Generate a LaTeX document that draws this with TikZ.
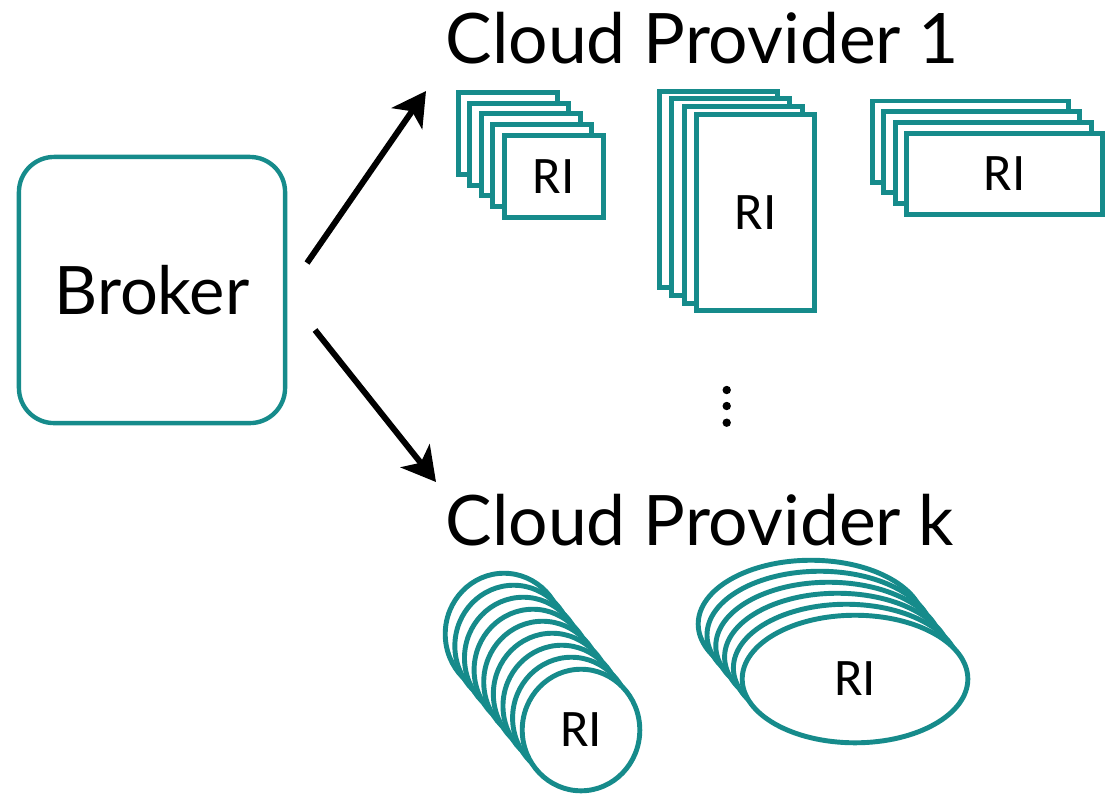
\documentclass[tikz,border=0pt]{standalone}
\usepackage{fontspec}
\setmainfont{Lato}
\newfontfamily\rifont{Carlito}
\usepackage{tikz}
\usetikzlibrary{arrows.meta, shapes.geometric}
\definecolor{RITeal}{RGB}{22,139,139}

\begin{document}
\begin{tikzpicture}[x=0.01cm, y=-0.01cm,
    ri/.style={draw=RITeal, line width=1.4pt, fill=white, inner sep=0pt, font=\rifont\fontsize{15}{16}\selectfont},
    flow/.style={-{Stealth[length=9.5pt, width=10.5pt, inset=2.5pt]}, line width=1.7pt},
    title/.style={anchor=base west, inner sep=0pt, font=\fontsize{19.8}{22}\selectfont}]
    \useasboundingbox (0,0) rectangle (1107,793);

    % broker
    \node[draw=RITeal, line width=1.25pt, rounded corners=10pt, minimum width=2.66cm, minimum height=2.66cm,
          font=\fontsize{19}{22}\selectfont] (broker) at (152,290) {Broker};

    % provider titles
    \node[title] (cp1) at (445,63) {Cloud Provider 1};
    \node[title] (cpk) at (445,545) {Cloud Provider k};

    % arrows
    \coordinate (up-from) at (307,263);
    \coordinate (up-to) at (426,91);
    \coordinate (down-from) at (315,330);
    \coordinate (down-to) at (436,482);
    \draw[flow] (up-from) -- (up-to);
    \draw[flow] (down-from) -- (down-to);

    % provider 1: small instances
    \foreach \i in {0,...,3}
        \node[ri, minimum width=0.99cm, minimum height=0.82cm] at ({507.8+\i*11.5},{133.3+\i*10.75}) {};
    \node[ri, minimum width=0.99cm, minimum height=0.82cm] (ri-small) at (553.8,176.3) {RI};

    % provider 1: tall instances
    \foreach \i in {0,...,2}
        \node[ri, minimum width=1.18cm, minimum height=1.965cm] at ({718.5+\i*12.33},{189.5+\i*7.67}) {};
    \node[ri, minimum width=1.18cm, minimum height=1.965cm] (ri-tall) at (755.5,212.5) {RI};

    % provider 1: wide instances
    \foreach \i in {0,...,2}
        \node[ri, minimum width=1.96cm, minimum height=0.81cm] at ({970.5+\i*11.33},{141.5+\i*10.83}) {};
    \node[ri, minimum width=1.96cm, minimum height=0.81cm] (ri-wide) at (1004.5,174) {RI};

    % dots between providers
    \foreach \y in {390,406,422.7}
        \fill (726.7,\y) circle (4.2);

    % provider k: round instances
    \foreach \i in {0,...,7}
        \node[ri, ellipse, minimum width=1.175cm, minimum height=1.215cm] at ({504+\i*9.625},{634+\i*12}) {};
    \node[ri, ellipse, minimum width=1.175cm, minimum height=1.215cm] (ri-round) at (581,730) {RI};

    % provider k: flat instances
    \foreach \i in {0,...,4}
        \node[ri, ellipse, minimum width=2.255cm, minimum height=1.275cm] at ({811+\i*8.8},{624+\i*11}) {};
    \node[ri, ellipse, minimum width=2.255cm, minimum height=1.275cm] (ri-flat) at (855,679) {RI};
\end{tikzpicture}
\end{document}
